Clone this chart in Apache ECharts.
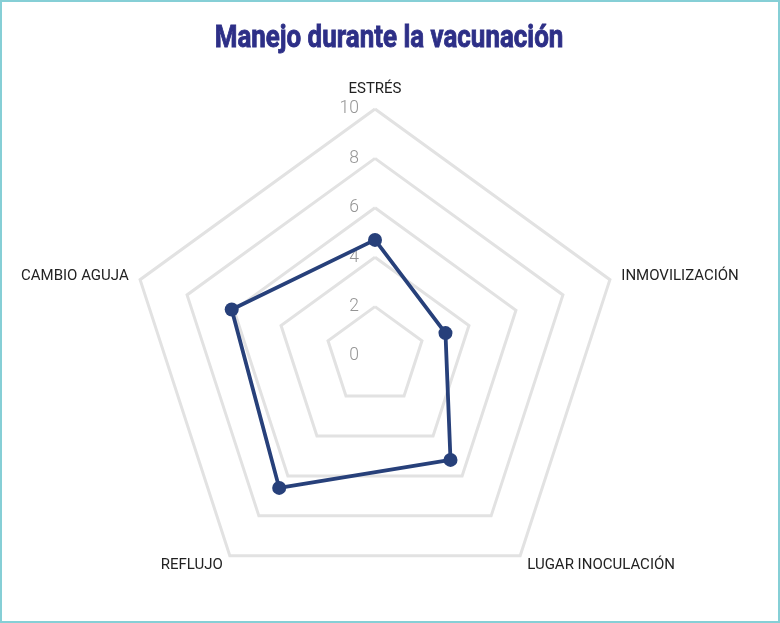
<!DOCTYPE html>
<html>
<head>
<meta charset="utf-8">
<script src="https://cdn.jsdelivr.net/npm/echarts@6/dist/echarts.min.js"></script>
<style>
  html, body { margin: 0; padding: 0; background: #fff; }
  #wrap { position: relative; width: 780px; height: 623px; }
  #chart { width: 780px; height: 623px; }
  #frame { position: absolute; left: 0; top: 0; width: 780px; height: 623px;
           box-sizing: border-box; border: 2px solid #86cfd6; pointer-events: none; }
</style>
</head>
<body>
<div id="wrap">
  <div id="chart"></div>
  <div id="frame"></div>
</div>
<script>
// indicadores en el orden en que ECharts los reparte (antihorario desde arriba)
const indicatorNames = ['ESTRÉS', 'CAMBIO AGUJA', 'REFLUJO', 'LUGAR INOCULACIÓN', 'INMOVILIZACIÓN'];
const values = [4.7, 6.1, 6.6, 5.2, 3.0];
const scaleMax = 10;
const scaleStep = 2;
const chartTitle = 'Manejo durante la vacunación';

let radarChart;

function initChart() {
    radarChart = echarts.init(document.getElementById('chart'));
    const option = {
        // título condensado: texto real escalado en horizontal
        graphic: [{
            type: 'text',
            x: 389,
            y: 39,
            scaleX: 0.81,
            style: {
                text: chartTitle,
                fill: '#2d2f87',
                stroke: '#2d2f87',
                lineWidth: 0.9,
                font: "bold 32px Roboto",
                textAlign: 'center',
                textVerticalAlign: 'middle'
            }
        }],
        radar: {
            center: [375, 356],
            radius: 247,
            shape: 'polygon',
            splitNumber: 5,
            axisNameGap: 12,
            indicator: indicatorNames.map(name => ({ name: name, min: 0, max: scaleMax })),
            axisName: {
                color: '#222',
                fontSize: 15,
                fontFamily: 'Roboto'
            },
            axisLine: { show: false },
            splitArea: { show: false },
            splitLine: {
                lineStyle: { color: '#e2e2e2', width: 3 }
            }
        },
        // eje auxiliar solo para las etiquetas 0..10 del eje superior
        grid: { left: 375, top: 109, width: 1, height: 247 },
        xAxis: { type: 'value', show: false },
        yAxis: {
            type: 'value',
            min: 0,
            max: scaleMax,
            interval: scaleStep,
            axisLine: { show: false },
            axisTick: { show: false },
            splitLine: { show: false },
            axisLabel: {
                color: '#959595',
                fontSize: 17.5,
                fontWeight: 300,
                fontFamily: 'Roboto',
                margin: 16
            }
        },
        series: [{
            type: 'radar',
            symbol: 'circle',
            symbolSize: 14,
            itemStyle: { color: '#27407a' },
            lineStyle: { color: '#27407a', width: 3.8 },
            data: [{ value: values, name: 'Manejo' }]
        }]
    };
    radarChart.setOption(option);
}

document.addEventListener('DOMContentLoaded', function () {
    initChart();
    window.addEventListener('resize', function () {
        radarChart.resize();
    });
});
</script>
</body>
</html>
